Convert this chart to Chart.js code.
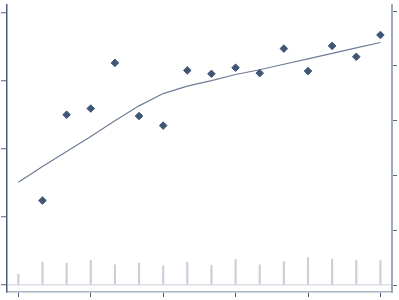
<!DOCTYPE html>
<html>
<head>
<meta charset="utf-8">
<script src="https://cdn.jsdelivr.net/npm/chart.js@4/dist/chart.umd.min.js"></script>
<style>
  html, body { margin: 0; padding: 0; background: #fff; }
  #box { width: 399px; height: 300px; }
</style>
</head>
<body>
<div id="box"><canvas id="chart"></canvas></div>
<script>
// x positions (observations)
var xs = [0, 1, 2, 3, 4, 5, 6, 7, 8, 9, 10, 11, 12, 13, 14, 15];
// scatter values (left axis), first observation has no marker
var punti = [null, 1.24, 2.50, 2.59, 3.26, 2.48, 2.34, 3.15, 3.10, 3.19, 3.11, 3.47, 3.14, 3.51, 3.35, 3.67];
// smoothed line (left axis)
var curva = [1.51, 1.74, 1.96, 2.18, 2.41, 2.63, 2.81, 2.92, 3.00, 3.09, 3.16, 3.24, 3.32, 3.40, 3.48, 3.56];
// spikes (right axis)
var spike = [0.20, 0.42, 0.40, 0.45, 0.37, 0.40, 0.35, 0.42, 0.36, 0.47, 0.37, 0.43, 0.50, 0.47, 0.45, 0.45];
// tick values
var xTicks = [0, 3, 6, 9, 12, 15];
var yTicks = [0, 1, 2, 3, 4];
var y2Ticks = [0, 1, 2, 3, 4, 5];

function coppie(vals) {
    return xs.map(function (x, i) { return { x: x, y: vals[i] }; });
}

var ctx = document.getElementById('chart');
var chart = new Chart(ctx, {
    data: {
        datasets: [{
            type: 'scatter',
            label: 'punti',
            data: coppie(punti),
            yAxisID: 'y',
            pointStyle: 'rectRot',
            pointRadius: 3.8,
            backgroundColor: '#3f5674',
            borderColor: '#3f5674',
            borderWidth: 1,
            order: 1
        }, {
            type: 'line',
            label: 'curva',
            data: coppie(curva),
            yAxisID: 'y',
            borderColor: '#6f7c95',
            borderWidth: 1.2,
            pointRadius: 0,
            tension: 0,
            fill: false,
            order: 2
        }, {
            type: 'bar',
            label: 'spike',
            data: coppie(spike),
            yAxisID: 'y2',
            backgroundColor: '#c9d0da',
            barThickness: 1.5,
            order: 3
        }]
    },
    options: {
        responsive: true,
        maintainAspectRatio: false,
        animation: false,
        layout: { padding: { left: 1, right: 2, top: 4, bottom: 3 } },
        plugins: { legend: { display: false }, tooltip: { enabled: false } },
        scales: {
            x: {
                type: 'linear',
                min: -0.47,
                max: 15.48,
                offset: false,
                afterBuildTicks: function (s) { s.ticks = xTicks.map(function (v) { return { value: v }; }); },
                ticks: { display: false },
                grid: { offset: false, drawOnChartArea: false, tickLength: 5, tickColor: '#4b5f7d', tickWidth: 1 },
                border: { color: '#a9b3c1', width: 1.5 }
            },
            y: {
                position: 'left',
                min: -0.102,
                max: 4.11,
                afterBuildTicks: function (s) { s.ticks = yTicks.map(function (v) { return { value: v }; }); },
                ticks: { display: false },
                grid: {
                    drawOnChartArea: true,
                    color: function (c) { return c.tick && c.tick.value === 0 ? '#dde2e8' : 'rgba(0,0,0,0)'; },
                    lineWidth: 1.5,
                    tickLength: 6,
                    tickColor: '#4b5f7d',
                    tickWidth: 1
                },
                border: { color: '#4b5f7d', width: 1.5 }
            },
            y2: {
                position: 'right',
                min: -0.127,
                max: 5.11,
                afterBuildTicks: function (s) { s.ticks = y2Ticks.map(function (v) { return { value: v }; }); },
                ticks: { display: false },
                grid: { drawOnChartArea: false, tickLength: 5, tickColor: '#56698a', tickWidth: 1 },
                border: { color: '#9ca8b8', width: 2 }
            }
        }
    }
});
</script>
</body>
</html>
